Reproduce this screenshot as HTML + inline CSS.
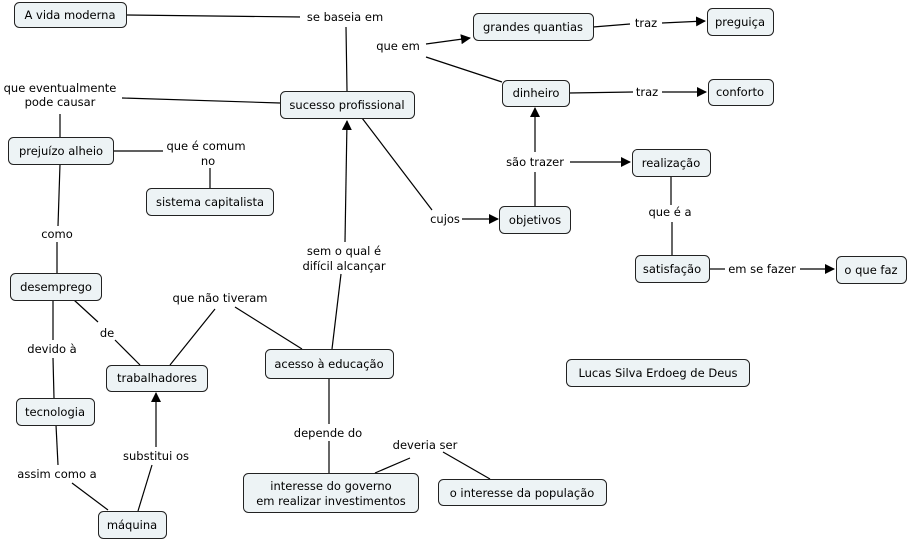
<!DOCTYPE html>
<html><head><meta charset="utf-8"><style>
html,body{margin:0;padding:0;background:#fff;}
svg{display:block;}
text{font-family:"DejaVu Sans","Liberation Sans",sans-serif;font-size:11.5px;fill:#000;text-anchor:middle;}
rect.n{fill:#edf3f5;stroke:#222;stroke-width:1;}
line{stroke:#000;stroke-width:1.2;}
</style></head><body>
<svg width="909" height="541" viewBox="0 0 909 541" xmlns="http://www.w3.org/2000/svg">
<defs><marker id="a" markerWidth="10" markerHeight="10" refX="9" refY="5" orient="auto" markerUnits="userSpaceOnUse"><path d="M0,0 L10,5 L0,10 z" fill="#000"/></marker></defs>
<g>
<line x1="126" y1="15" x2="302" y2="17"/>
<line x1="346" y1="27" x2="347" y2="91"/>
<line x1="280" y1="103" x2="122" y2="98"/>
<line x1="60" y1="114" x2="60" y2="137"/>
<line x1="426" y1="44" x2="470" y2="38" marker-end="url(#a)"/>
<line x1="426" y1="57" x2="502" y2="82"/>
<line x1="593" y1="27" x2="630" y2="24"/>
<line x1="662" y1="23" x2="705" y2="21" marker-end="url(#a)"/>
<line x1="569" y1="93" x2="633" y2="92"/>
<line x1="662" y1="92" x2="706" y2="92" marker-end="url(#a)"/>
<line x1="362" y1="118" x2="432" y2="210"/>
<line x1="462" y1="219" x2="498" y2="219" marker-end="url(#a)"/>
<line x1="535" y1="206" x2="535" y2="172"/>
<line x1="535" y1="152" x2="535" y2="108" marker-end="url(#a)"/>
<line x1="570" y1="162" x2="630" y2="162" marker-end="url(#a)"/>
<line x1="671" y1="176" x2="671" y2="205"/>
<line x1="672" y1="222" x2="672" y2="255"/>
<line x1="709" y1="269" x2="725" y2="269"/>
<line x1="800" y1="269" x2="834" y2="269" marker-end="url(#a)"/>
<line x1="113" y1="151" x2="163" y2="151"/>
<line x1="210" y1="168" x2="210" y2="188"/>
<line x1="60" y1="164" x2="58" y2="226"/>
<line x1="57" y1="242" x2="57" y2="273"/>
<line x1="74" y1="300" x2="98" y2="322"/>
<line x1="115" y1="340" x2="140" y2="365"/>
<line x1="53" y1="300" x2="53" y2="340"/>
<line x1="53" y1="358" x2="54" y2="398"/>
<line x1="56" y1="425" x2="58" y2="465"/>
<line x1="72" y1="483" x2="108" y2="510"/>
<line x1="138" y1="511" x2="152" y2="465"/>
<line x1="156" y1="447" x2="156" y2="393" marker-end="url(#a)"/>
<line x1="170" y1="365" x2="215" y2="309"/>
<line x1="235" y1="307" x2="302" y2="349"/>
<line x1="332" y1="349" x2="341" y2="274"/>
<line x1="345" y1="242" x2="347" y2="121" marker-end="url(#a)"/>
<line x1="329" y1="378" x2="329" y2="473"/>
<line x1="375" y1="473" x2="410" y2="458"/>
<line x1="443" y1="452" x2="490" y2="479"/>
</g>
<g fill="#fff">
<rect x="300" y="8" width="92" height="18" style="fill:#fff"/>
<rect x="290" y="424" width="76" height="17" style="fill:#fff"/>
</g>
<g>
<rect class="n" x="14.5" y="2.5" width="112" height="25" rx="5"/><text x="70" y="19">A vida moderna</text>
<rect class="n" x="280.5" y="91.5" width="134" height="27" rx="5"/><text x="347" y="109">sucesso profissional</text>
<rect class="n" x="473.5" y="13.5" width="120" height="27" rx="5"/><text x="533" y="31">grandes quantias</text>
<rect class="n" x="707.5" y="8.5" width="66" height="27" rx="5"/><text x="740" y="26">preguiça</text>
<rect class="n" x="502.5" y="80.5" width="67" height="26" rx="5"/><text x="536" y="97">dinheiro</text>
<rect class="n" x="708.5" y="79.5" width="65" height="26" rx="5"/><text x="740" y="96">conforto</text>
<rect class="n" x="8.5" y="137.5" width="105" height="27" rx="5"/><text x="61" y="155">prejuízo alheio</text>
<rect class="n" x="146.5" y="188.5" width="127" height="27" rx="5"/><text x="210" y="206">sistema capitalista</text>
<rect class="n" x="499.5" y="206.5" width="71" height="27" rx="5"/><text x="535" y="224">objetivos</text>
<rect class="n" x="632.5" y="149.5" width="78" height="27" rx="5"/><text x="671" y="167">realização</text>
<rect class="n" x="635.5" y="255.5" width="74" height="27" rx="5"/><text x="672" y="273">satisfação</text>
<rect class="n" x="836.5" y="256.5" width="70" height="27" rx="5"/><text x="871" y="274">o que faz</text>
<rect class="n" x="10.5" y="273.5" width="91" height="27" rx="5"/><text x="56" y="291">desemprego</text>
<rect class="n" x="106.5" y="365.5" width="101" height="26" rx="5"/><text x="157" y="382">trabalhadores</text>
<rect class="n" x="265.5" y="349.5" width="128" height="29" rx="5"/><text x="329" y="368">acesso à educação</text>
<rect class="n" x="16.5" y="398.5" width="78" height="27" rx="5"/><text x="55" y="416">tecnologia</text>
<rect class="n" x="566.5" y="359.5" width="183" height="27" rx="5"/><text x="658" y="377">Lucas Silva Erdoeg de Deus</text>
<rect class="n" x="243.5" y="473.5" width="175" height="39" rx="5"/><text x="331" y="490">interesse do governo</text><text x="331" y="505">em realizar investimentos</text>
<rect class="n" x="438.5" y="479.5" width="168" height="26" rx="5"/><text x="522" y="497">o interesse da população</text>
<rect class="n" x="98.5" y="511.5" width="68" height="27" rx="5"/><text x="132" y="529">máquina</text>
</g>
<g>
<text x="345" y="21">se baseia em</text>
<text x="398" y="50">que em</text>
<text x="646" y="27">traz</text>
<text x="647" y="96">traz</text>
<text x="60" y="92">que eventualmente</text><text x="60" y="106">pode causar</text>
<text x="206" y="150">que é comum</text><text x="208" y="165">no</text>
<text x="57" y="238">como</text>
<text x="535" y="166">são trazer</text>
<text x="670" y="216">que é a</text>
<text x="762" y="273">em se fazer</text>
<text x="445" y="223">cujos</text>
<text x="344" y="255">sem o qual é</text><text x="344" y="270">difícil alcançar</text>
<text x="220" y="302">que não tiveram</text>
<text x="107" y="337">de</text>
<text x="52" y="353">devido à</text>
<text x="328" y="437">depende do</text>
<text x="425" y="449">deveria ser</text>
<text x="57" y="478">assim como a</text>
<text x="156" y="460">substitui os</text>
</g>
</svg>
</body></html>
